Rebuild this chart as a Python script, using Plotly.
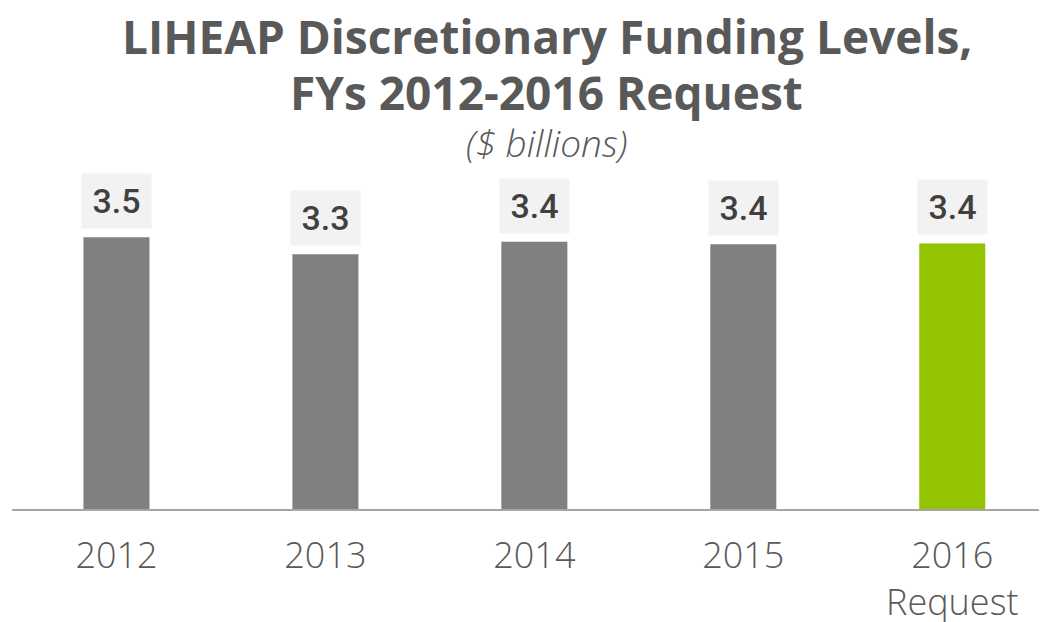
import plotly.graph_objects as go

categories = ["2012", "2013", "2014", "2015", "2016<br>Request"]
values = [3.48, 3.26, 3.42, 3.39, 3.40]
colors = ["#808080", "#808080", "#808080", "#808080", "#92c400"]
labels = [f"{v:.1f}" for v in values]

fig = go.Figure()
fig.add_trace(go.Bar(
    x=list(range(len(categories))), y=values,
    marker=dict(color=colors, line=dict(width=0)),
    hoverinfo="skip",
))

for i, (v, t) in enumerate(zip(values, labels)):
    fig.add_annotation(
        x=i, y=v, text=t, showarrow=False,
        yanchor="bottom", yshift=8,
        width=69, height=54, borderpad=0,
        bgcolor="#f2f2f2",
        font=dict(family="Roboto", size=34, color="#404040", weight=500),
    )

title_font = dict(family="Open Sans", size=46, color="#595959")
plot_top = 162
for text, ypx, fnt in [
    ("<b>LIHEAP Discretionary Funding Levels,</b>", 28, title_font),
    ("<b>FYs 2012-2016 Request</b>", 84, title_font),
    ("<i>($ billions)</i>", 134, dict(family="Open Sans", size=37, color="#595959", weight=300)),
]:
    fig.add_annotation(
        x=0.52, xref="paper", y=1, yref="paper",
        yshift=plot_top - ypx, yanchor="middle", xanchor="center",
        text=text, showarrow=False, font=fnt,
    )

fig.update_layout(
    width=1047, height=622,
    paper_bgcolor="white", plot_bgcolor="white",
    margin=dict(l=4, r=15, t=162, b=121),
    bargap=0.684,
    showlegend=False,
    xaxis=dict(
        range=[-0.5, 4.42], tickmode="array",
        tickvals=list(range(len(categories))), ticktext=categories,
        showgrid=False, zeroline=False,
        showline=True, linecolor="#a6a6a6", linewidth=2,
        ticks="", tickfont=dict(family="Open Sans", size=36, color="#595959", weight=300),
        ticklabelstandoff=14,
    ),
    yaxis=dict(range=[0, 4.34], visible=False),
)

fig.write_html("out.html")
